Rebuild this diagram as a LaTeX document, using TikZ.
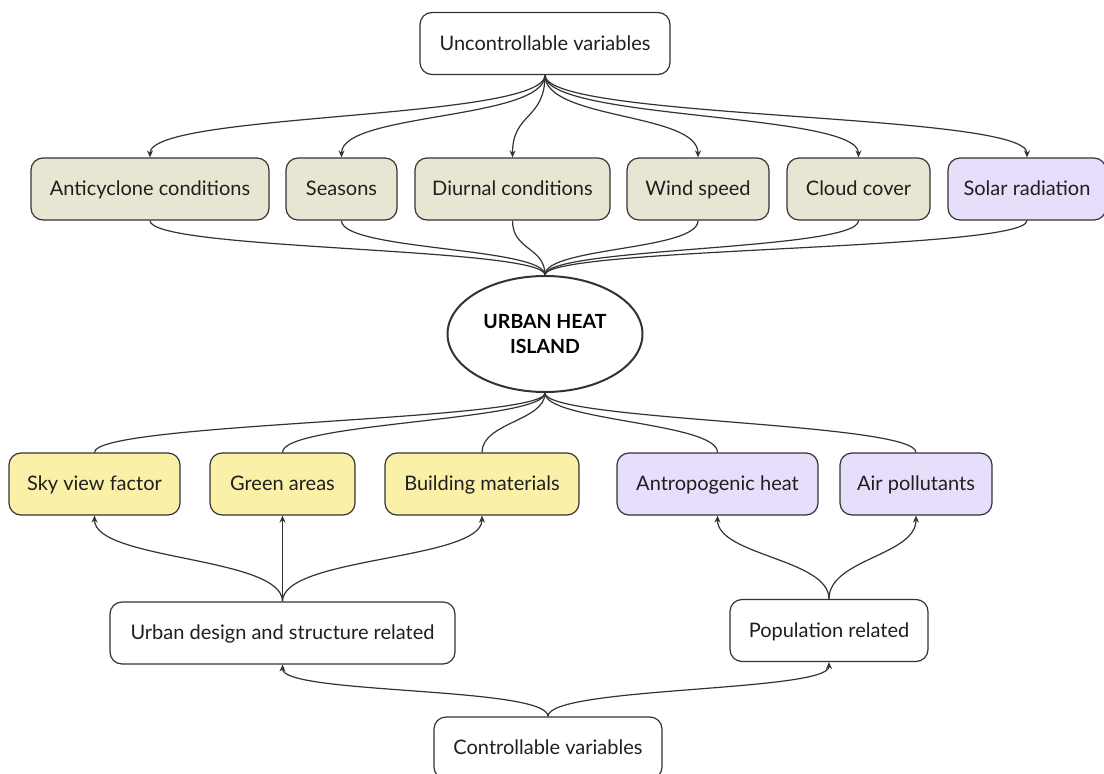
\documentclass[tikz,border=0pt]{standalone}
\usepackage{fontspec}
\setmainfont{Lato}
\usetikzlibrary{arrows.meta,shapes.geometric}
\definecolor{olivefill}{HTML}{E8E6D2}
\definecolor{purplefill}{HTML}{E6DEFA}
\definecolor{yellowfill}{HTML}{FAF0A8}
\definecolor{edgegray}{HTML}{333333}
\tikzset{
  box/.style={draw=edgegray, line width=1.2pt, rounded corners=12pt, minimum height=62pt, inner sep=0pt, text height=15.5pt, text depth=2.5pt, font=\fontsize{20}{23}\selectfont, text=black!88},
  plainbox/.style={box, fill=white},
  olivebox/.style={box, fill=olivefill},
  purplebox/.style={box, fill=purplefill},
  yellowbox/.style={box, fill=yellowfill},
  conn/.style={draw=edgegray, line width=1.2pt},
  arr/.style={conn, -{Stealth[length=7pt,width=6pt]}}
}
\begin{document}
\begin{tikzpicture}[x=1pt,y=-1pt]
\useasboundingbox[fill=white] (0,0) rectangle (1104,774);
% nodes
\node[plainbox, minimum width=250pt] (unc) at (545,43.5) {Uncontrollable variables};
\node[olivebox, minimum width=238pt] (anti) at (150,189) {Anticyclone conditions};
\node[olivebox, minimum width=111pt] (seas) at (341.5,189) {Seasons};
\node[olivebox, minimum width=195pt] (diur) at (512.5,189) {Diurnal conditions};
\node[olivebox, minimum width=142pt] (wind) at (698,189) {Wind speed};
\node[olivebox, minimum width=143pt] (cloud) at (858.5,189) {Cloud cover};
\node[purplebox, minimum width=158pt] (solar) at (1027,189) {Solar radiation};
\node[draw=edgegray, line width=2pt, fill=white, ellipse, minimum width=195pt, minimum height=116pt, inner sep=0pt, align=center, font=\fontsize{19.5}{25}\selectfont\bfseries, text=black] (uhi) at (545,334) {URBAN HEAT\\ISLAND};
\node[yellowbox, minimum width=171pt] (sky) at (94.5,484) {Sky view factor};
\node[yellowbox, minimum width=145pt] (green) at (282.5,484) {Green areas};
\node[yellowbox, minimum width=194pt] (build) at (482,484) {Building materials};
\node[purplebox, minimum width=201pt] (anth) at (717.5,484) {Antropogenic heat};
\node[purplebox, minimum width=152pt] (air) at (916,484) {Air pollutants};
\node[plainbox, minimum width=345pt] (urban) at (282.5,633) {Urban design and structure related};
\node[plainbox, minimum width=198pt] (pop) at (829,630.5) {Population related};
\node[plainbox, minimum width=228pt] (ctrl) at (548,748) {Controllable variables};
% uncontrollable -> factors
\foreach \t in {anti,seas,diur,wind,cloud,solar}
  \draw[arr] (unc.south) .. controls +(0,45) and +(0,-45) .. (\t.north);
% factors -> UHI
\foreach \s in {anti,seas,diur,wind,cloud,solar}
  \draw[conn] (\s.south) .. controls +(0,30) and +(0,-28) .. (uhi.north);
% UHI -> lower factors
\foreach \t in {sky,green,build,anth,air}
  \draw[conn] (uhi.south) .. controls +(0,28) and +(0,-30) .. (\t.north);
% urban design -> factors
\draw[arr] (urban.north) .. controls +(0,-45) and +(0,45) .. (sky.south);
\draw[arr] (urban.north) -- (green.south);
\draw[arr] (urban.north) .. controls +(0,-45) and +(0,45) .. (build.south);
% population -> factors
\draw[arr] (pop.north) .. controls +(0,-40) and +(0,40) .. (anth.south);
\draw[arr] (pop.north) .. controls +(0,-40) and +(0,40) .. (air.south);
% controllable -> groups
\draw[arr] (ctrl.north) .. controls +(0,-30) and +(0,30) .. (urban.south);
\draw[arr] (ctrl.north) .. controls +(0,-30) and +(0,30) .. (pop.south);
\end{tikzpicture}
\end{document}
